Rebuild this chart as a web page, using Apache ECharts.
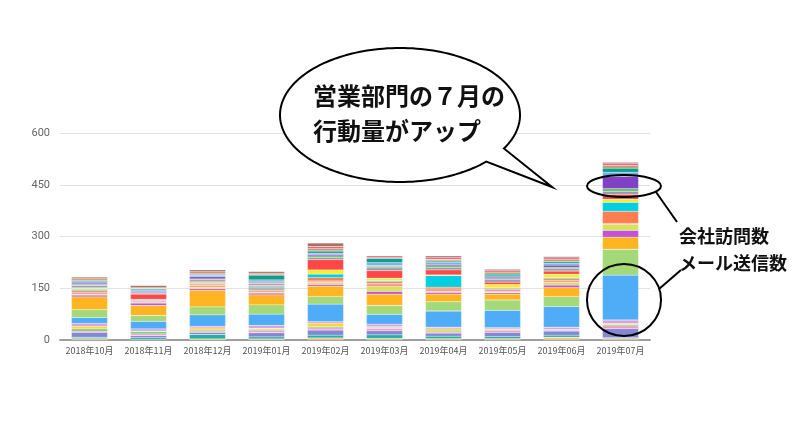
<!DOCTYPE html>
<html>
<head>
<meta charset="utf-8">
<script src="https://cdn.jsdelivr.net/npm/echarts@6/dist/echarts.min.js"></script>
<style>
html,body{margin:0;padding:0;background:#fff;}
#chart{width:800px;height:423px;}
</style>
</head>
<body>
<div id="chart"></div>
<script>
// ---- data ----
const months = ['2018年10月','2018年11月','2018年12月','2019年01月','2019年02月','2019年03月','2019年04月','2019年05月','2019年06月','2019年07月'];
const yTicks = [0, 150, 300, 450, 600];

const act01 = [4,2,3,3,6,5,4,4,8,5];
const act02 = [4,5,13,6,8,10,7,6,6,2];
const act03 = [14,6,6,12,15,12,9,12,12,26];
const act04 = [4,5,4,6,6,7,3,6,2,8];
const act05 = [6,6,3,4,4,3,3,2,2,4];
const act06 = [8,2,6,3,10,2,6,2,1,3];
const act07 = [8,6,5,8,4,7,5,4,6,10];
const mailSent = [17,22,33,33,51,28,47,50,60,130];   // メール送信数
const act09 = [23,17,23,27,22,26,27,30,29,75];
const act10 = [37,29,48,29,30,33,22,17,26,35];
const act11 = [5,7,5,5,5,8,5,4,7,20];
const act12 = [3,2,4,3,5,14,3,3,8,17];
const act13 = [6,4,5,5,5,8,7,6,6,3];
const act14 = [4,2,4,4,10,6,5,3,5,35];
const act15 = [4,2,2,5,10,3,34,2,3,26];
const act16 = [3,1,3,2,12,7,2,10,10,9];
const act17 = [2,15,3,3,30,22,14,7,9,14];
const act18 = [6,3,5,5,6,8,7,7,7,9];
const act19 = [3,1,2,3,5,4,5,3,4,8];
const companyVisits = [4,4,6,4,4,3,4,4,6,35];        // 会社訪問数
const act21 = [4,4,4,4,4,8,6,4,6,12];
const act22 = [3,3,3,14,6,13,4,5,4,12];
const act23 = [5,2,4,2,7,2,5,6,6,8];
const act24 = [3,2,4,3,6,5,6,4,5,7];
const act25 = [3,6,5,5,10,1,4,4,4,3];

const seriesNames = ['項目01','項目02','項目03','項目04','項目05','項目06','項目07','メール送信数','項目09','項目10','項目11','項目12','項目13','項目14','項目15','項目16','項目17','項目18','項目19','会社訪問数','項目21','項目22','項目23','項目24','項目25'];
const seriesData = [act01,act02,act03,act04,act05,act06,act07,mailSent,act09,act10,act11,act12,act13,act14,act15,act16,act17,act18,act19,companyVisits,act21,act22,act23,act24,act25];

// ---- styles ----
const palette = ['#f8c08c','#22b0a0','#8486d8','#f59abf','#6fcc72','#ffd23e','#d59fe6','#4fadf8','#a4d97a','#ffb522','#c452d6','#d4e35a','#f49a86','#ff7d4e','#00cfe2','#ffec2e','#ff4747','#9a9aae','#5cc266','#8141c4','#6fb3e6','#149c8a','#b5a06a','#ec5f84','#a8705a'];

const series = seriesData.map((d, i) => ({
  name: seriesNames[i],
  type: 'bar',
  stack: 'total',
  data: d,
  barWidth: 36,
  itemStyle: { color: palette[i], borderColor: 'rgba(255,255,255,0.7)', borderWidth: 0.3 },
  emphasis: { disabled: true }
}));

// speech bubble outline (ellipse + tail)
const cx = 400, cy = 115, rx = 120, ry = 67;
const bubblePts = [[552, 187]];
for (let a = 44; a <= 390; a += 2) {
  const t = a * Math.PI / 180;
  bubblePts.push([cx + rx * Math.cos(t), cy + ry * Math.sin(t)]);
}

const font = '"Noto Sans CJK JP", "Noto Sans", sans-serif';

const chart = echarts.init(document.getElementById('chart'), null, { renderer: 'canvas' });
chart.setOption({
  animation: false,
  backgroundColor: '#ffffff',
  grid: { left: 60, right: 150, top: 133, bottom: 83 },
  xAxis: {
    type: 'category',
    data: months,
    axisTick: { show: false },
    axisLine: { lineStyle: { color: '#9e9e9e', width: 2 } },
    axisLabel: { color: '#555', fontSize: 9, margin: 6, fontFamily: font, interval: 0 }
  },
  yAxis: {
    type: 'value',
    min: yTicks[0],
    max: yTicks[yTicks.length - 1],
    interval: yTicks[1] - yTicks[0],
    axisLine: { show: false },
    axisTick: { show: false },
    axisLabel: { color: '#666', fontSize: 11, margin: 10, fontFamily: 'Roboto, sans-serif' },
    splitLine: { lineStyle: { color: '#e3e3e3', width: 1 } }
  },
  series: series,
  graphic: [
    { type: 'polygon', z: 100, shape: { points: bubblePts }, style: { fill: '#fff', stroke: '#000', lineWidth: 2 } },
    { type: 'text', z: 101, left: 313, top: 84, style: { text: '営業部門の７月の', fill: '#111', font: 'bold 24px ' + font } },
    { type: 'text', z: 101, left: 313, top: 119, style: { text: '行動量がアップ', fill: '#111', font: 'bold 24px ' + font } },
    { type: 'ellipse', z: 100, shape: { cx: 624, cy: 186, rx: 37, ry: 11 }, style: { fill: 'none', stroke: '#000', lineWidth: 2 } },
    { type: 'ellipse', z: 100, shape: { cx: 624, cy: 300, rx: 37, ry: 36 }, style: { fill: 'none', stroke: '#000', lineWidth: 2 } },
    { type: 'line', z: 100, shape: { x1: 656, y1: 192, x2: 677, y2: 222 }, style: { stroke: '#000', lineWidth: 2 } },
    { type: 'line', z: 100, shape: { x1: 659, y1: 289, x2: 681, y2: 270 }, style: { stroke: '#000', lineWidth: 2 } },
    { type: 'text', z: 101, left: 679, top: 227, style: { text: '会社訪問数', fill: '#111', font: 'bold 18px ' + font } },
    { type: 'text', z: 101, left: 679, top: 254, style: { text: 'メール送信数', fill: '#111', font: 'bold 18px ' + font } }
  ]
});
</script>
</body>
</html>
